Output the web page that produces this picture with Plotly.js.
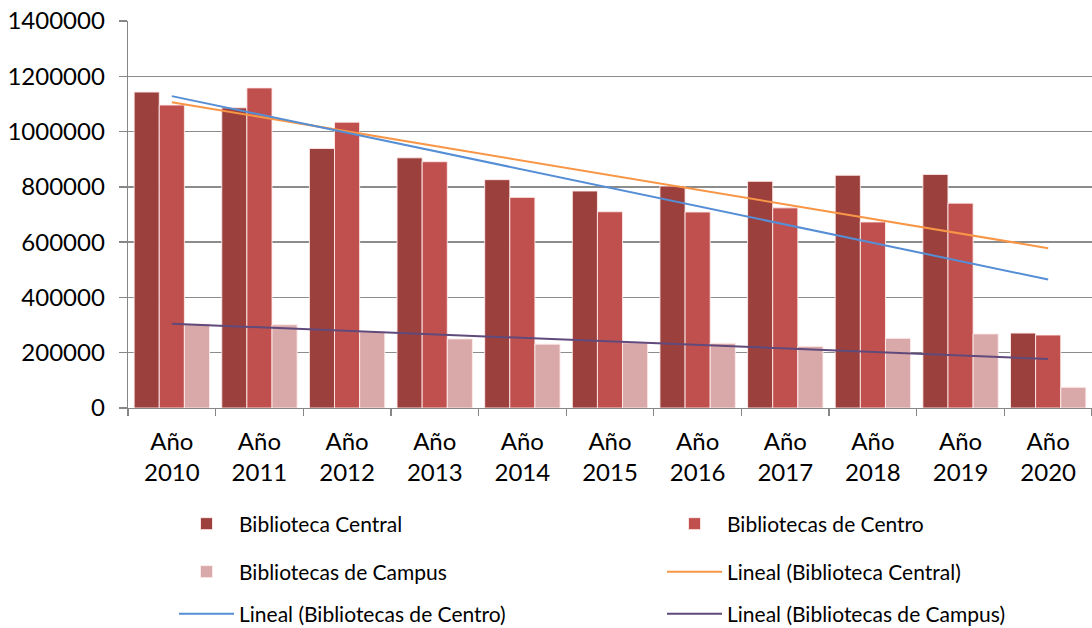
<!DOCTYPE html>
<html><head><meta charset="utf-8">
<script src="https://cdn.plot.ly/plotly-3.0.1.min.js"></script>
<style>html,body{margin:0;padding:0;background:#fff}#c{width:1092px;height:628px}</style>
</head><body><div id="c"></div>
<script>
const categories = ["Año<br>2010","Año<br>2011","Año<br>2012","Año<br>2013","Año<br>2014","Año<br>2015","Año<br>2016","Año<br>2017","Año<br>2018","Año<br>2019","Año<br>2020"];
const bibliotecaCentral = [1143000,1086000,939000,905000,826000,785000,803000,820000,842000,845000,271000];
const bibliotecasCentro = [1096000,1158000,1034000,891000,762000,710000,709000,724000,673000,741000,264000];
const bibliotecasCampus = [304000,301000,276000,250000,231000,236000,234000,223000,252000,268000,75000];
const tickVals = [0,200000,400000,600000,800000,1000000,1200000,1400000];

function trend(vals){
  const n = vals.length; const xs = vals.map((v,i)=>i);
  const mx = xs.reduce((a,b)=>a+b,0)/n, my = vals.reduce((a,b)=>a+b,0)/n;
  let sxy=0,sxx=0; xs.forEach((x,i)=>{sxy+=(x-mx)*(vals[i]-my);sxx+=(x-mx)*(x-mx);});
  const m = sxy/sxx, b = my - m*mx;
  return xs.map(x=>m*x+b);
}
const font = "Lato, 'Open Sans', sans-serif";
const barLine = {color:'rgba(255,235,235,0.9)', width:1};
const data = [
  {type:'bar', name:'Biblioteca Central', x:categories, y:bibliotecaCentral, marker:{color:'#9C403E', line:barLine}, legend:'legend'},
  {type:'bar', name:'Bibliotecas de Centro', x:categories, y:bibliotecasCentro, marker:{color:'#C0504D', line:barLine}, legend:'legend2'},
  {type:'bar', name:'Bibliotecas de Campus', x:categories, y:bibliotecasCampus, marker:{color:'#D9A9A9', line:barLine}, legend:'legend3'},
  {type:'scatter', mode:'lines', name:'Lineal (Biblioteca Central)', x:categories, y:trend(bibliotecaCentral), line:{color:'#F79646', width:2}, legend:'legend4'},
  {type:'scatter', mode:'lines', name:'Lineal (Bibliotecas de Centro)', x:categories, y:trend(bibliotecasCentro), line:{color:'#558ED5', width:2}, legend:'legend5'},
  {type:'scatter', mode:'lines', name:'Lineal (Bibliotecas de Campus)', x:categories, y:trend(bibliotecasCampus), line:{color:'#604A7B', width:2}, legend:'legend6'}
];
function leg(px, py){
  return {x:(px-128)/964, xanchor:'left', y:(408-py)/387, yanchor:'middle',
    font:{family:font, size:21}, itemwidth:55, bgcolor:'rgba(0,0,0,0)', borderwidth:0};
}
const layout = {
  width:1092, height:628,
  margin:{l:128, r:0, t:21, b:220, autoexpand:false},
  paper_bgcolor:'#fff', plot_bgcolor:'#fff',
  font:{family:font, size:24, color:'#000'},
  barmode:'group', bargap:0.14, bargroupgap:0,
  showlegend:true,
  xaxis:{type:'category', showgrid:false, showline:true, linecolor:'#868686', linewidth:1.3,
    ticks:'outside', tickson:'boundaries', ticklen:7, tickcolor:'#868686', tickwidth:1.3,
    tickfont:{family:font, size:24}, ticklabelstandoff:12, automargin:false},
  yaxis:{range:[0,1400000], tickvals:tickVals, ticktext:tickVals.map(String),
    showgrid:true, gridcolor:'#8C8C8C', gridwidth:1.3, showline:true, linecolor:'#868686', linewidth:1.3,
    ticks:'outside', ticklen:8, tickcolor:'#868686', tickwidth:1.3, zeroline:false,
    tickfont:{family:font, size:24}, ticklabelstandoff:9, automargin:false},
  legend:leg(174,524), legend2:leg(662,524),
  legend3:leg(174,572), legend4:leg(662,572),
  legend5:leg(174,614), legend6:leg(662,614)
};
Plotly.newPlot('c', data, layout, {displayModeBar:false, staticPlot:true});
</script></body></html>
